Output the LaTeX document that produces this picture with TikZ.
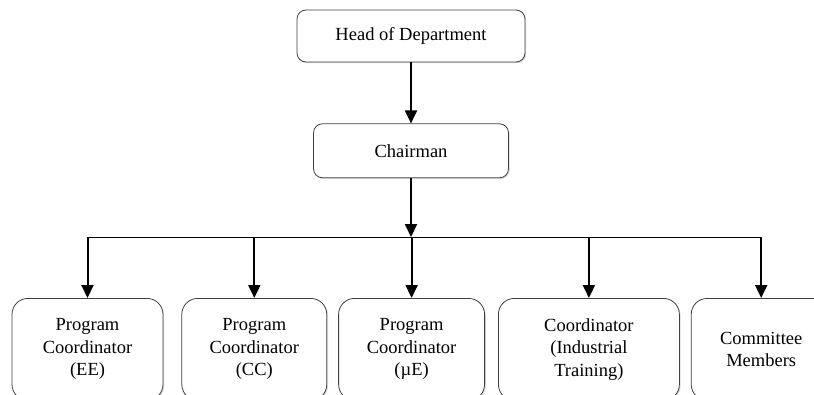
\documentclass[tikz,border=0pt]{standalone}
\usepackage{fontspec}
\setmainfont{Liberation Serif}
\usetikzlibrary{positioning,arrows.meta,shadows}

\tikzset{
  orgbox/.style={draw=black!75, line width=0.8pt, fill=white, align=center,
    drop shadow={shadow xshift=1.2pt, shadow yshift=-1.2pt, opacity=0.3, fill=black!50},
    font=\fontsize{18.5}{22.5}\selectfont},
  topbox/.style={orgbox, rounded corners=9pt},
  lowbox/.style={orgbox, rounded corners=16pt, minimum height=102pt, inner sep=2pt},
  conn/.style={line width=2pt, -{Triangle[length=13pt,width=12pt]}}
}

\begin{document}
\begin{tikzpicture}[x=1pt, y=-1pt, node distance=2cm]
    \useasboundingbox (0,0) rectangle (814,394);

    \node [topbox, minimum width=228pt, minimum height=52pt] (head) at (411,36) {Head of Department};
    \node [topbox, minimum width=195pt, minimum height=54pt, below=61pt of head] (chair) {Chairman};

    \node [lowbox, minimum width=151pt, anchor=north] (ee) at (87.5,298) {Program\\Coordinator\\(EE)};
    \node [lowbox, minimum width=145pt, right=18pt of ee] (cc) {Program\\Coordinator\\(CC)};
    \node [lowbox, minimum width=146pt, right=11pt of cc] (ue) {Program\\Coordinator\\(µE)};
    \node [lowbox, minimum width=181pt, right=13pt of ue] (it) {Coordinator\\(Industrial\\Training)};
    \node [lowbox, minimum width=140pt, right=11pt of it] (cm) {Committee\\Members};

    \coordinate (bus) at (0,237);
    \draw [conn] (head) -- (chair);
    \draw [conn] (chair) -- (chair |- bus);
    \draw [line width=1pt] (ee.north |- bus) -- (cm.north |- bus);
    \foreach \n in {ee,cc,ue,it,cm}
        \draw [conn] (\n.north |- bus) -- (\n.north);

\end{tikzpicture}
\end{document}
